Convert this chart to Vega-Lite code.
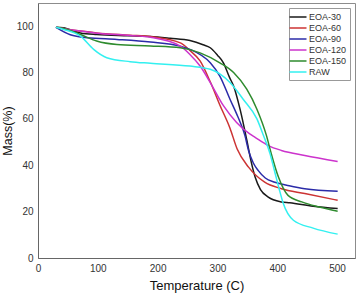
{
  "$schema": "https://vega.github.io/schema/vega-lite/v6.json",
  "width": 317,
  "height": 255,
  "autosize": "none",
  "padding": {"left": 38, "top": 3, "right": 2, "bottom": 36},
  "background": "white",
  "config": {
    "view": {"stroke": "#8c8c8c", "strokeWidth": 1},
    "font": "Liberation Sans"
  },
  "data": {
    "values": [
      {"s": "EOA-30", "t": 30, "m": 99.5}, {"s": "EOA-30", "t": 42, "m": 99.3}, {"s": "EOA-30", "t": 71, "m": 97.1}, {"s": "EOA-30", "t": 98, "m": 96.4}, {"s": "EOA-30", "t": 150, "m": 95.9}, {"s": "EOA-30", "t": 188, "m": 95.6}, {"s": "EOA-30", "t": 221, "m": 94.8}, {"s": "EOA-30", "t": 254, "m": 93.8}, {"s": "EOA-30", "t": 276, "m": 92.0}, {"s": "EOA-30", "t": 288, "m": 90.7}, {"s": "EOA-30", "t": 300, "m": 87.5}, {"s": "EOA-30", "t": 310, "m": 84.2}, {"s": "EOA-30", "t": 320, "m": 78}, {"s": "EOA-30", "t": 327, "m": 74.2}, {"s": "EOA-30", "t": 338, "m": 64}, {"s": "EOA-30", "t": 349, "m": 51}, {"s": "EOA-30", "t": 356, "m": 42}, {"s": "EOA-30", "t": 363, "m": 34.9}, {"s": "EOA-30", "t": 372, "m": 29.5}, {"s": "EOA-30", "t": 385, "m": 26.3}, {"s": "EOA-30", "t": 407, "m": 24.2}, {"s": "EOA-30", "t": 421, "m": 23.8}, {"s": "EOA-30", "t": 460, "m": 22.3}, {"s": "EOA-30", "t": 501, "m": 21.3},

      {"s": "EOA-60", "t": 30, "m": 99.5}, {"s": "EOA-60", "t": 50, "m": 98.6}, {"s": "EOA-60", "t": 71, "m": 97.9}, {"s": "EOA-60", "t": 98, "m": 97.1}, {"s": "EOA-60", "t": 154, "m": 96.1}, {"s": "EOA-60", "t": 188, "m": 95.5}, {"s": "EOA-60", "t": 238, "m": 92.8}, {"s": "EOA-60", "t": 254, "m": 89.5}, {"s": "EOA-60", "t": 271, "m": 85}, {"s": "EOA-60", "t": 288, "m": 76}, {"s": "EOA-60", "t": 304, "m": 66}, {"s": "EOA-60", "t": 321, "m": 56}, {"s": "EOA-60", "t": 333, "m": 47}, {"s": "EOA-60", "t": 352, "m": 39.2}, {"s": "EOA-60", "t": 379, "m": 32.7}, {"s": "EOA-60", "t": 407, "m": 29.9}, {"s": "EOA-60", "t": 446, "m": 27.8}, {"s": "EOA-60", "t": 501, "m": 24.9},

      {"s": "EOA-90", "t": 30, "m": 99.5}, {"s": "EOA-90", "t": 54, "m": 96.3}, {"s": "EOA-90", "t": 82, "m": 95}, {"s": "EOA-90", "t": 132, "m": 94.3}, {"s": "EOA-90", "t": 188, "m": 93.2}, {"s": "EOA-90", "t": 238, "m": 91.4}, {"s": "EOA-90", "t": 254, "m": 90}, {"s": "EOA-90", "t": 288, "m": 84.2}, {"s": "EOA-90", "t": 304, "m": 78.5}, {"s": "EOA-90", "t": 321, "m": 68.5}, {"s": "EOA-90", "t": 334, "m": 61}, {"s": "EOA-90", "t": 346, "m": 52.8}, {"s": "EOA-90", "t": 352, "m": 46.4}, {"s": "EOA-90", "t": 360, "m": 41}, {"s": "EOA-90", "t": 368, "m": 37.8}, {"s": "EOA-90", "t": 380, "m": 34.5}, {"s": "EOA-90", "t": 396, "m": 32.7}, {"s": "EOA-90", "t": 420, "m": 31.2}, {"s": "EOA-90", "t": 446, "m": 29.9}, {"s": "EOA-90", "t": 501, "m": 28.8},

      {"s": "EOA-120", "t": 30, "m": 99.5}, {"s": "EOA-120", "t": 50, "m": 98.6}, {"s": "EOA-120", "t": 71, "m": 97.9}, {"s": "EOA-120", "t": 98, "m": 97.0}, {"s": "EOA-120", "t": 154, "m": 96.0}, {"s": "EOA-120", "t": 188, "m": 95.2}, {"s": "EOA-120", "t": 238, "m": 91.4}, {"s": "EOA-120", "t": 254, "m": 87.8}, {"s": "EOA-120", "t": 271, "m": 82.8}, {"s": "EOA-120", "t": 288, "m": 75.7}, {"s": "EOA-120", "t": 310, "m": 65.7}, {"s": "EOA-120", "t": 332, "m": 58.5}, {"s": "EOA-120", "t": 354, "m": 53.5}, {"s": "EOA-120", "t": 363, "m": 52}, {"s": "EOA-120", "t": 385, "m": 48.5}, {"s": "EOA-120", "t": 407, "m": 46.4}, {"s": "EOA-120", "t": 446, "m": 44.2}, {"s": "EOA-120", "t": 501, "m": 41.6},

      {"s": "EOA-150", "t": 30, "m": 99.5}, {"s": "EOA-150", "t": 48, "m": 98.6}, {"s": "EOA-150", "t": 71, "m": 96.4}, {"s": "EOA-150", "t": 98, "m": 93.6}, {"s": "EOA-150", "t": 132, "m": 92.1}, {"s": "EOA-150", "t": 188, "m": 91.5}, {"s": "EOA-150", "t": 238, "m": 90.7}, {"s": "EOA-150", "t": 271, "m": 88.5}, {"s": "EOA-150", "t": 304, "m": 84.2}, {"s": "EOA-150", "t": 327, "m": 80}, {"s": "EOA-150", "t": 349, "m": 72.8}, {"s": "EOA-150", "t": 366, "m": 64.2}, {"s": "EOA-150", "t": 382, "m": 52.8}, {"s": "EOA-150", "t": 390, "m": 45}, {"s": "EOA-150", "t": 402, "m": 34.9}, {"s": "EOA-150", "t": 418, "m": 27}, {"s": "EOA-150", "t": 441, "m": 24.2}, {"s": "EOA-150", "t": 470, "m": 22}, {"s": "EOA-150", "t": 501, "m": 20.2},

      {"s": "RAW", "t": 30, "m": 99.5}, {"s": "RAW", "t": 43, "m": 98.6}, {"s": "RAW", "t": 71, "m": 95.7}, {"s": "RAW", "t": 93, "m": 90}, {"s": "RAW", "t": 115, "m": 86.4}, {"s": "RAW", "t": 154, "m": 84.7}, {"s": "RAW", "t": 188, "m": 84}, {"s": "RAW", "t": 254, "m": 82.8}, {"s": "RAW", "t": 288, "m": 81.4}, {"s": "RAW", "t": 321, "m": 75.7}, {"s": "RAW", "t": 343, "m": 68.5}, {"s": "RAW", "t": 366, "m": 60}, {"s": "RAW", "t": 377, "m": 52.8}, {"s": "RAW", "t": 388, "m": 45}, {"s": "RAW", "t": 396, "m": 37}, {"s": "RAW", "t": 403, "m": 30}, {"s": "RAW", "t": 410, "m": 23.6}, {"s": "RAW", "t": 427, "m": 16.3}, {"s": "RAW", "t": 460, "m": 12.9}, {"s": "RAW", "t": 501, "m": 10.3}
    ]
  },
  "mark": {"type": "line", "strokeWidth": 1.5, "interpolate": "monotone"},
  "encoding": {
    "x": {
      "field": "t", "type": "quantitative",
      "scale": {"domain": [0, 530], "nice": false},
      "axis": {
        "title": "Temperature (C)", "titleFontSize": 13, "titleFontWeight": "normal", "titleColor": "#111", "titlePadding": 6,
        "values": [0, 100, 200, 300, 400, 500], "labelFontSize": 10, "labelColor": "#333",
        "ticks": false, "labelPadding": 5, "grid": false, "domainColor": "#666", "labelFlush": false
      }
    },
    "y": {
      "field": "m", "type": "quantitative",
      "scale": {"domain": [0, 110], "nice": false},
      "axis": {
        "title": "Mass(%)", "titleFontSize": 12.5, "titleFontWeight": "normal", "titleColor": "#111", "titlePadding": 2,
        "values": [0, 20, 40, 60, 80, 100], "labelFontSize": 10, "labelColor": "#333",
        "ticks": false, "labelPadding": 5, "grid": false, "domainColor": "#666", "labelFlush": false
      }
    },
    "color": {
      "field": "s", "type": "nominal",
      "scale": {
        "domain": ["EOA-30", "EOA-60", "EOA-90", "EOA-120", "EOA-150", "RAW"],
        "range": ["#1a1a1a", "#cc3333", "#2b2ba8", "#cc33cc", "#2e8b2e", "#33f0f0"]
      },
      "legend": {
        "title": null, "orient": "none", "legendX": 251, "legendY": 5,
        "symbolType": "M-1.7,0H1.7", "symbolSize": 100, "symbolStrokeWidth": 1.5,
        "labelFontSize": 9, "labelColor": "#333", "labelOffset": 5,
        "strokeColor": "#999", "fillColor": "white", "padding": 3, "rowPadding": -0.5
      }
    }
  }
}
